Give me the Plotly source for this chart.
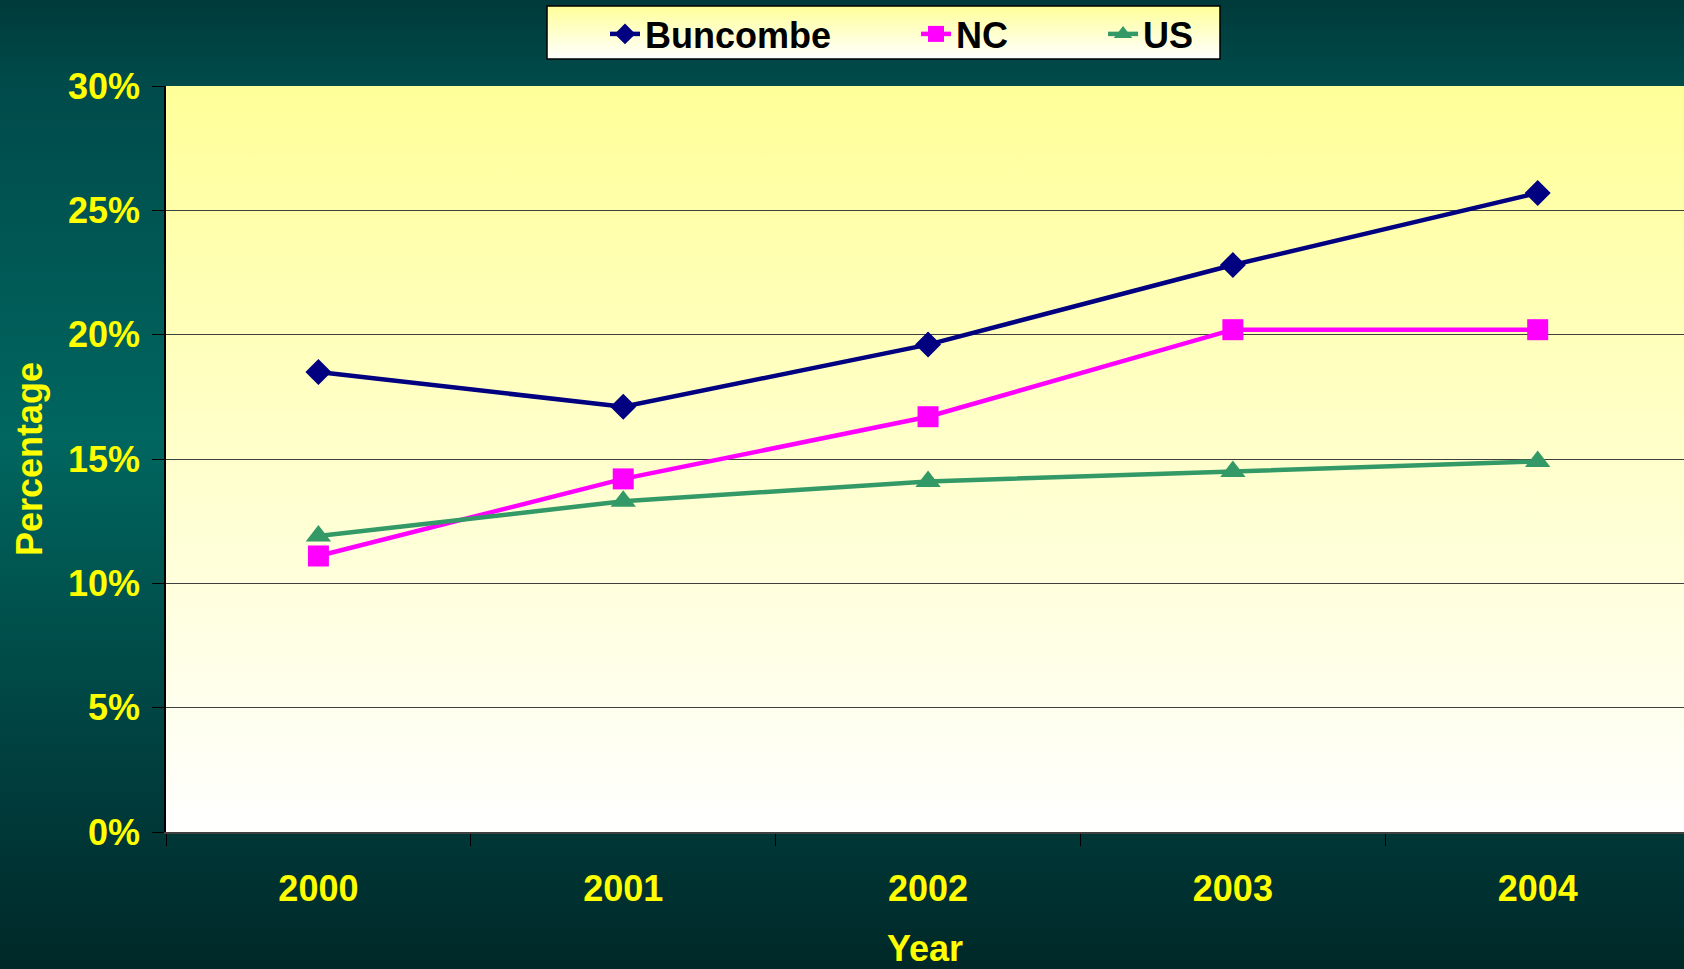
import base64

import plotly.graph_objects as go

years = ["2000", "2001", "2002", "2003", "2004"]
buncombe = [18.5, 17.1, 19.6, 22.8, 25.7]
nc = [11.1, 14.2, 16.7, 20.2, 20.2]
us = [11.9, 13.3, 14.1, 14.5, 14.9]
y_ticks = [0, 5, 10, 15, 20, 25, 30]

FONT = "Liberation Sans, Arial, sans-serif"
YELLOW = "#FFFF00"
NBSP = "\u00a0"  # spacing between legend entries


def gradient_uri(stops):
    """Vertical SVG gradient as a data URI (used for backgrounds)."""
    stop_xml = "".join(
        f'<stop offset="{o}" stop-color="{c}"/>' for o, c in stops
    )
    svg = (
        '<svg xmlns="http://www.w3.org/2000/svg" width="100" height="100" '
        'viewBox="0 0 100 100" preserveAspectRatio="none">'
        '<defs><linearGradient id="g" x1="0" y1="0" x2="0" y2="1">'
        f"{stop_xml}</linearGradient></defs>"
        '<rect width="100" height="100" fill="url(#g)"/></svg>'
    )
    return "data:image/svg+xml;base64," + base64.b64encode(svg.encode()).decode()


teal_bg = gradient_uri([
    (0, "#003A3A"), (0.08, "#004A4A"), (0.45, "#00665F"),
    (0.85, "#003838"), (1, "#002828"),
])
yellow_bg = gradient_uri([(0, "#FFFF99"), (1, "#FFFFFF")])

W, H = 1684, 969
ML, MT, MB = 166, 86, 137
plot_h = H - MT - MB
plot_w = W - ML

fig = go.Figure()
fig.add_trace(go.Scatter(
    x=years, y=buncombe, name="Buncombe" + NBSP * 8, mode="lines+markers",
    line=dict(color="#000080", width=4.5),
    marker=dict(symbol="diamond", size=20, color="#000080"),
))
fig.add_trace(go.Scatter(
    x=years, y=nc, name="NC" + NBSP * 9, mode="lines+markers",
    line=dict(color="#FF00FF", width=4.5),
    marker=dict(symbol="square", size=21, color="#FF00FF"),
))
fig.add_trace(go.Scatter(
    x=years, y=us, name="US", mode="lines+markers",
    line=dict(color="#339966", width=4.5),
    marker=dict(symbol="triangle-up", size=22, color="#339966"),
))

# legend box (gradient + border), in paper coords relative to plot area
lx0, lx1, ly0, ly1 = 547, 1220, 6, 59
to_px = lambda px: (px - ML) / plot_w
to_py = lambda py: (H - MB - py) / plot_h

images = [
    dict(source=teal_bg, xref="paper", yref="paper",
         x=to_px(0), y=to_py(0), sizex=W / plot_w, sizey=H / plot_h,
         sizing="stretch", layer="below", xanchor="left", yanchor="top"),
    dict(source=yellow_bg, xref="paper", yref="paper",
         x=0, y=1, sizex=1, sizey=1,
         sizing="stretch", layer="below", xanchor="left", yanchor="top"),
    dict(source=yellow_bg, xref="paper", yref="paper",
         x=to_px(lx0), y=to_py(ly0),
         sizex=(lx1 - lx0) / plot_w, sizey=(ly1 - ly0) / plot_h,
         sizing="stretch", layer="below", xanchor="left", yanchor="top"),
]

fig.update_layout(
    width=W, height=H,
    margin=dict(l=ML, r=0, t=MT, b=MB),
    paper_bgcolor="#004848",
    plot_bgcolor="rgba(0,0,0,0)",
    font=dict(family=FONT, color=YELLOW, size=36),
    images=images,
    shapes=[dict(
        type="rect", xref="paper", yref="paper",
        x0=to_px(lx0), x1=to_px(lx1), y0=to_py(ly1), y1=to_py(ly0),
        line=dict(color="#000000", width=1.5), layer="above",
    )],
    showlegend=True,
    legend=dict(
        orientation="h", x=to_px(605), y=to_py(ly0 - 2),
        xanchor="left", yanchor="top",
        bgcolor="rgba(0,0,0,0)", borderwidth=0,
        font=dict(family=FONT, size=36, color="#000000", weight="bold"),
    ),
    xaxis=dict(
        type="category", range=[-0.5, 4.48], automargin=False,
        showgrid=False, showline=True, linecolor="#404040", linewidth=2,
        ticks="outside", tickson="boundaries", ticklen=12,
        tickcolor="#000000", tickwidth=1,
        ticklabelstandoff=24,
        tickfont=dict(size=36, weight="bold", color=YELLOW, family=FONT),
        title=dict(text="Year", standoff=40,
                   font=dict(size=36, weight="bold", color=YELLOW, family=FONT)),
        zeroline=False,
    ),
    yaxis=dict(
        range=[0, 30], tickvals=y_ticks, automargin=False,
        ticktext=[f"{v}%" for v in y_ticks],
        showgrid=True, gridcolor="#404040", gridwidth=1,
        showline=True, linecolor="#000000", linewidth=1.5,
        ticks="outside", ticklen=12, tickcolor="#000000", tickwidth=1,
        ticklabelstandoff=5,
        tickfont=dict(size=36, weight="bold", color=YELLOW, family=FONT),
        title=dict(text="Percentage", standoff=14,
                   font=dict(size=36, weight="bold", color=YELLOW, family=FONT)),
        zeroline=False,
    ),
)

fig.write_html(
    "out.html",
    config={"displayModeBar": False},
    post_script="document.body.style.margin='0';",
)
